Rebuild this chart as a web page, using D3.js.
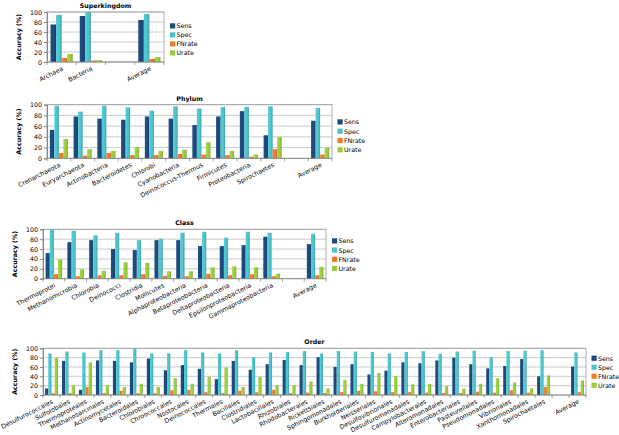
<!DOCTYPE html>
<html><head><meta charset="utf-8">
<script src="https://cdn.jsdelivr.net/npm/d3@7"></script>
<style>body{margin:0;background:#fff}svg{display:block;font-family:"DejaVu Sans",Verdana,sans-serif}</style>
</head><body><svg id="c" width="619" height="435"></svg>
<script>
const seriesNames = ["Sens","Spec","FNrate","Urate"];
const seriesColors = ["#1d4a7c","#4cc3cc","#f07a2e","#9bcb3e"];
const yTicks = [0,20,40,60,80,100];

const skCats = ["Archaea","Bacteria","","Average"];
const skSens = [75,92,null,84];
const skSpec = [94,100,null,96];
const skFN   = [8,3,null,6];
const skU    = [16,4,null,10];

const phCats = ["Crenarchaeota","Euryarchaeota","Actinobacteria","Bacteroidetes","Chlorobi","Cyanobacteria","Deinococcus-Thermus","Firmicutes","Proteobacteria","Spirochaetes","","Average"];
const phSens = [53,78,74,72,78,74,62,78,88,43,null,70];
const phSpec = [98,87,98,95,89,97,93,96,96,97,null,94];
const phFN   = [10,5,10,6,6,8,7,6,3,17,null,7];
const phU    = [36,17,14,21,14,16,30,14,7,40,null,20];

const clCats = ["Thermoprotei","Methanomicrobia","Chlorobia","Deinococci","Clostridia","Mollicutes","Alphaproteobacteria","Betaproteobacteria","Deltaproteobacteria","Epsilonproteobacteria","Gammaproteobacteria","","Average"];
const clSens = [52,74,78,60,58,78,78,66,66,68,85,null,70];
const clSpec = [99,97,88,93,78,81,93,95,83,95,93,null,91];
const clFN   = [9,5,7,7,9,6,5,10,7,9,5,null,7];
const clU    = [39,19,16,33,32,15,15,23,25,23,10,null,24];

const orCats = ["Desulfurococcales","Sulfolobales","Thermoproteales","Methanosarcinales","Actinomycetales","Bacteroidales","Chlorobiales","Chroococcales","Nostocales","Deinococcales","Thermales","Bacillales","Clostridiales","Lactobacillales","Rhizobiales","Rhodobacterales","Rickettsiales","Sphingomonadales","Burkholderiales","Neisseriales","Desulfovibrionales","Desulfuromonadales","Campylobacterales","Alteromonadales","Enterobacteriales","Pasteurellales","Pseudomonadales","Vibrionales","Xanthomonadales","Spirochaetales","","Average"];
const orSens = [14,73,11,74,73,70,78,53,64,56,34,73,54,66,75,64,81,60,66,44,52,70,68,74,80,66,57,62,77,40,null,61];
const orSpec = [89,93,91,96,96,99,89,89,96,91,89,96,81,91,92,94,89,94,93,92,89,92,94,88,93,95,81,94,95,96,null,91];
const orFN   = [4,4,17,4,9,4,4,10,11,6,4,9,6,11,4,5,4,6,9,8,6,6,5,4,4,7,5,10,5,17,null,6];
const orU    = [80,21,70,21,17,24,17,36,24,39,59,17,39,21,21,29,14,32,24,47,41,23,24,19,13,24,36,27,14,42,null,31];

const panels = [
  {title:"Superkingdom", cats:skCats, vals:[skSens,skSpec,skFN,skU], x0:47, x1:164, yt:12, yb:62, lx:170, ly:26, ls:9},
  {title:"Phylum", cats:phCats, vals:[phSens,phSpec,phFN,phU], x0:47, x1:332, yt:104.7, yb:158.3, lx:337.5, ly:122, ls:9.3},
  {title:"Class", cats:clCats, vals:[clSens,clSpec,clFN,clU], x0:43, x1:326, yt:229.3, yb:278.7, lx:332, ly:241, ls:9.2},
  {title:"Order", cats:orCats, vals:[orSens,orSpec,orFN,orU], x0:43, x1:586, yt:348.3, yb:395, lx:591.5, ly:358.3, ls:9}
];

const svg = d3.select("#c");
const defs = svg.append("defs");
seriesColors.forEach((c,i)=>{
  const g = defs.append("linearGradient").attr("id","g"+i).attr("x1","0").attr("x2","1").attr("y1","0").attr("y2","0");
  g.append("stop").attr("offset","0%").attr("stop-color",d3.color(c).brighter(0.15));
  g.append("stop").attr("offset","65%").attr("stop-color",c);
  g.append("stop").attr("offset","100%").attr("stop-color",d3.color(c).darker(0.6));
});

const fs = 6.3;
panels.forEach(p=>{
  const g = svg.append("g");
  const x = d3.scaleBand().domain(p.cats).range([p.x0,p.x1]).paddingInner(0).paddingOuter(0);
  const xs = d3.scaleBand().domain(seriesNames).range([0,x.bandwidth()]).paddingInner(0).paddingOuter(0.63);
  const y = d3.scaleLinear().domain([0,100]).range([p.yb,p.yt]);

  // gridlines
  g.selectAll("line.grid").data(yTicks.slice(1)).join("line")
    .attr("x1",p.x0).attr("x2",p.x1).attr("y1",d=>y(d)).attr("y2",d=>y(d))
    .attr("stroke","#bdbdbd").attr("stroke-width",0.8);
  // plot border
  g.append("rect").attr("x",p.x0).attr("y",p.yt).attr("width",p.x1-p.x0).attr("height",p.yb-p.yt)
    .attr("fill","none").attr("stroke","#9a9a9a").attr("stroke-width",0.8);

  // bars
  seriesNames.forEach((s,si)=>{
    const data = p.cats.map((c,i)=>({c, v:p.vals[si][i]})).filter(d=>d.v!=null);
    g.selectAll("rect.b"+si).data(data).join("rect")
      .attr("x",d=>x(d.c)+xs(s)).attr("width",xs.bandwidth())
      .attr("y",d=>y(d.v)).attr("height",d=>y(0)-y(d.v))
      .attr("fill","url(#g"+si+")");
  });

  // y axis
  const ya = d3.axisLeft(y).tickValues(yTicks).tickSize(3).tickPadding(2);
  const yg = g.append("g").attr("transform",`translate(${p.x0},0)`).call(ya);
  yg.select(".domain").attr("stroke","#868686");
  yg.selectAll(".tick line").attr("stroke","#868686");
  yg.selectAll("text").attr("font-size",fs).attr("fill","#000").attr("font-family","DejaVu Sans");

  // x axis line and ticks between categories
  g.append("line").attr("x1",p.x0).attr("x2",p.x1).attr("y1",p.yb).attr("y2",p.yb).attr("stroke","#868686").attr("stroke-width",0.8);
  const bounds = p.cats.map(c=>x(c)).concat([p.x1]);
  g.selectAll("line.xt").data(bounds).join("line")
    .attr("x1",d=>d).attr("x2",d=>d).attr("y1",p.yb).attr("y2",p.yb+3)
    .attr("stroke","#868686").attr("stroke-width",0.8);
  g.selectAll("text.xl").data(p.cats.filter(c=>c!=="")).join("text")
    .attr("text-anchor","end").attr("font-size",fs).attr("fill","#000")
    .attr("transform",d=>`translate(${x(d)+x.bandwidth()/2+2},${p.yb+8}) rotate(-27)`)
    .text(d=>d);

  // title
  g.append("text").attr("x",(p.x0+p.x1)/2).attr("y",p.yt-4).attr("text-anchor","middle")
    .attr("font-size",6.3).attr("font-weight","bold").text(p.title);
  // y title
  g.append("text").attr("transform",`translate(${p.x0-26},${(p.yt+p.yb)/2}) rotate(-90)`)
    .attr("text-anchor","middle").attr("font-size",6.3).attr("font-weight","bold").text("Accuracy (%)");

  // legend
  seriesNames.forEach((s,si)=>{
    const cy = p.ly + si*p.ls;
    g.append("rect").attr("x",p.lx).attr("y",cy-2.7).attr("width",5.2).attr("height",5.2).attr("fill",seriesColors[si]);
    g.append("text").attr("x",p.lx+6.5).attr("y",cy+2.3).attr("font-size",fs).text(s);
  });
});
</script></body></html>
